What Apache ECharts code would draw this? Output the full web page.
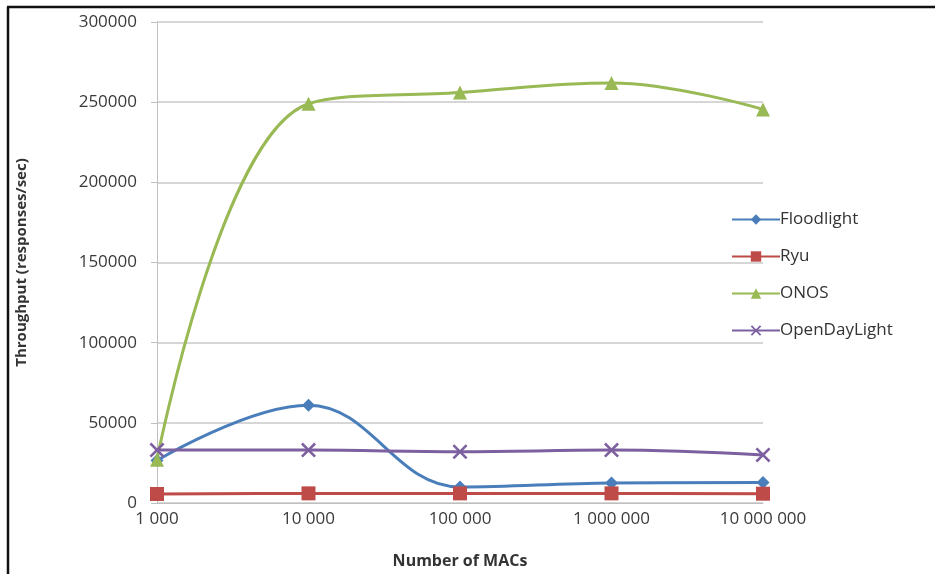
<!DOCTYPE html>
<html>
<head>
<meta charset="utf-8">
<script src="https://cdn.jsdelivr.net/npm/echarts@6/dist/echarts.min.js"></script>
<style>
html,body{margin:0;padding:0;background:#fff;}
#chart{width:935px;height:574px;}
</style>
</head>
<body>
<div id="chart"></div>
<script>
var categories = ['1 000', '10 000', '100 000', '1 000 000', '10 000 000'];
var floodlight = [26500, 61000, 10000, 12500, 12800];
var ryu = [5600, 6000, 6000, 6000, 5800];
var onos = [27000, 249000, 256000, 262000, 245500];
var openDayLight = [33000, 33000, 32000, 33000, 30000];
var yTicks = [0, 50000, 100000, 150000, 200000, 250000, 300000];

var xSymbol = 'path://M0,1.2L1.2,0L5,3.8L8.8,0L10,1.2L6.2,5L10,8.8L8.8,10L5,6.2L1.2,10L0,8.8L3.8,5Z';
var font = '"Open Sans", "Liberation Sans", sans-serif';

var chart = echarts.init(document.getElementById('chart'));
function mk(name, data, color, symbol, size) {
  return {
    name: name, type: 'line', data: data, smooth: 0.4,
    symbol: symbol, symbolSize: size,
    lineStyle: {color: color, width: 3},
    itemStyle: {color: color},
    z: 3
  };
}
chart.setOption({
  animation: false,
  backgroundColor: '#fff',
  textStyle: {fontFamily: font},
  grid: {left: 157, right: 172, top: 22, bottom: 69, containLabel: false},
  legend: {
    orient: 'vertical', left: 726, top: 206,
    itemWidth: 48, itemHeight: 13, itemGap: 20,
    textStyle: {fontFamily: font, fontSize: 17, color: '#333', padding: [0, 0, 0, -5]},
    data: ['Floodlight', 'Ryu', 'ONOS', 'OpenDayLight']
  },
  xAxis: {
    type: 'category', data: categories, boundaryGap: false,
    name: 'Number of MACs', nameLocation: 'middle', nameGap: 50,
    nameTextStyle: {fontFamily: font, fontSize: 16, fontWeight: 'bold', color: '#333'},
    axisLine: {lineStyle: {color: '#bfbfbf', width: 1}},
    axisTick: {show: false},
    axisLabel: {fontFamily: font, fontSize: 17, color: '#3a3a3a', margin: 8}
  },
  yAxis: {
    type: 'value', min: yTicks[0], max: yTicks[yTicks.length - 1], interval: 50000,
    name: 'Throughput (responses/sec)', nameLocation: 'middle', nameGap: 128,
    nameTextStyle: {fontFamily: font, fontSize: 15, fontWeight: 'bold', color: '#333'},
    axisLine: {show: true, lineStyle: {color: '#bfbfbf', width: 1}},
    axisTick: {show: true, length: 6, lineStyle: {color: '#bfbfbf'}},
    splitLine: {lineStyle: {color: '#c8c8c8', width: 1.5}},
    axisLabel: {fontFamily: font, fontSize: 17, color: '#3a3a3a', margin: 20,
      formatter: function (v) { return String(v); }}
  },
  series: [
    mk('Floodlight', floodlight, '#4a7ebb', 'diamond', 13),
    mk('Ryu', ryu, '#be4b48', 'rect', 14),
    mk('ONOS', onos, '#98b954', 'triangle', 14),
    mk('OpenDayLight', openDayLight, '#7d60a0', xSymbol, 15)
  ],
  graphic: [
    {type: 'line', shape: {x1: 8, y1: 7, x2: 8, y2: 574}, style: {stroke: '#111', lineWidth: 2.5}},
    {type: 'line', shape: {x1: 7, y1: 7, x2: 935, y2: 7}, style: {stroke: '#111', lineWidth: 2.5}}
  ]
});
</script>
</body>
</html>
